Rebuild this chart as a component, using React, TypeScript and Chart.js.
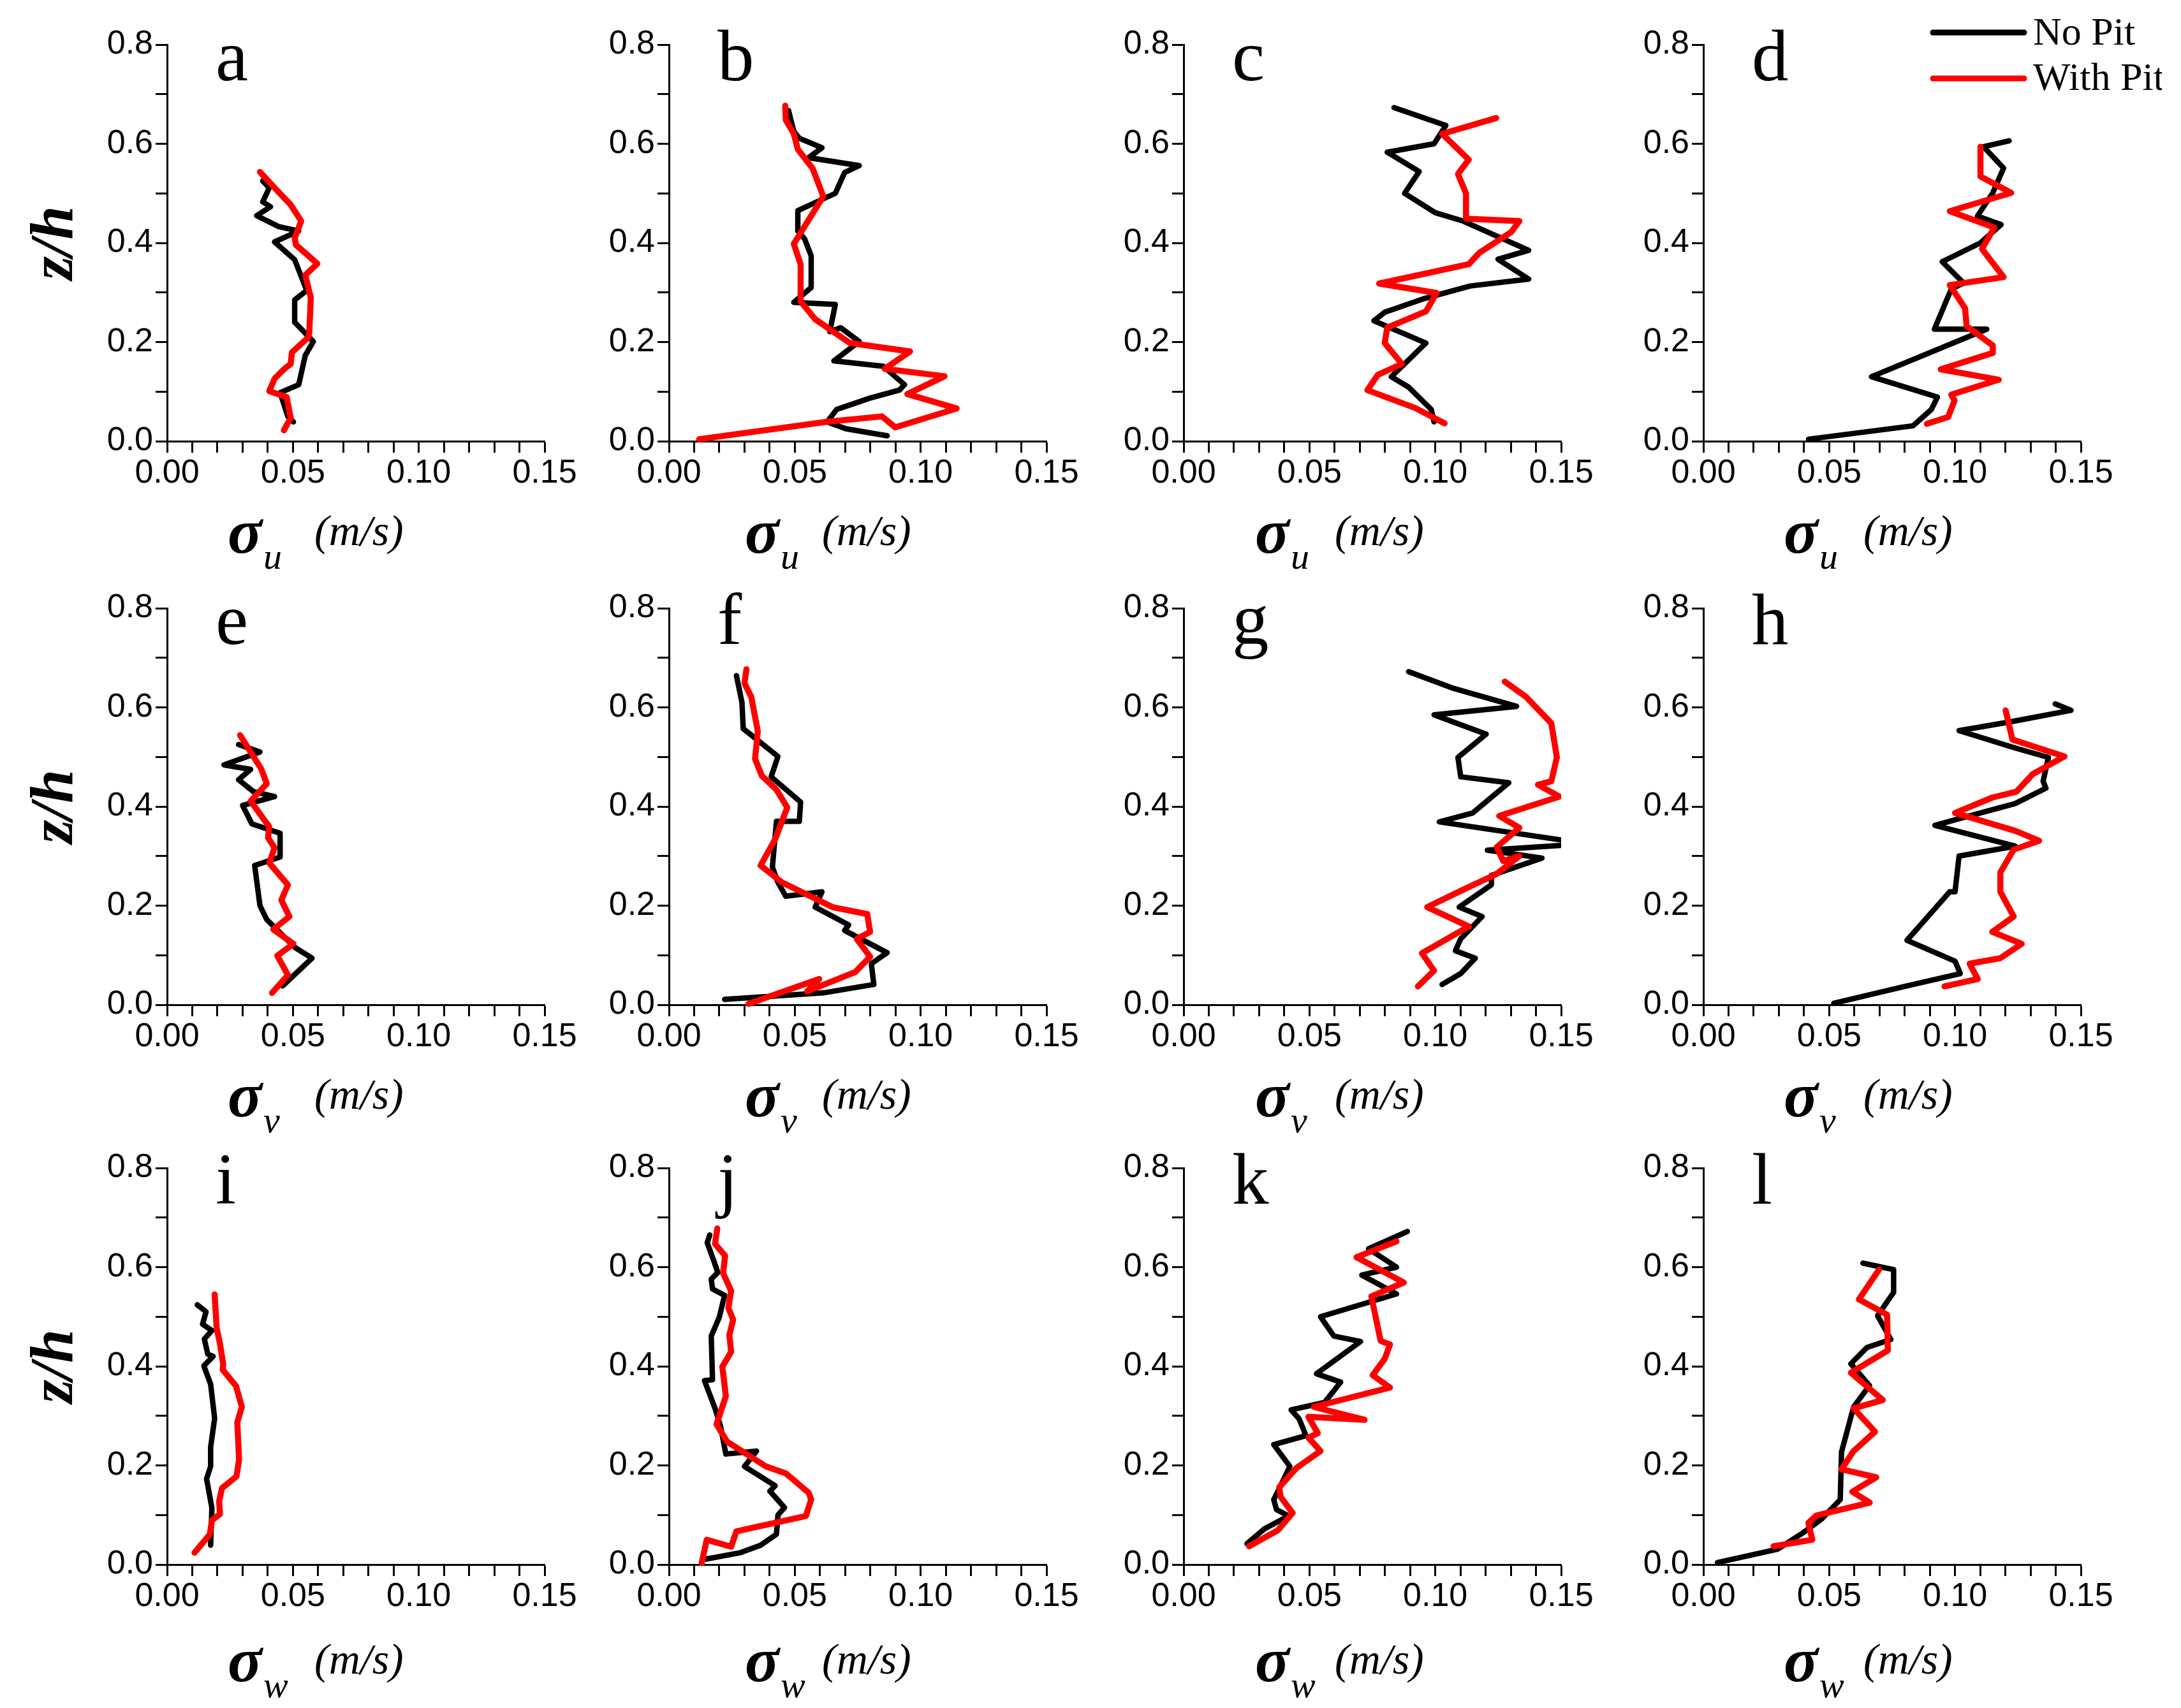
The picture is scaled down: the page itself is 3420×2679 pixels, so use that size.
import { useEffect, useRef } from "react";
import { Chart, registerables, type ChartConfiguration, type Plugin } from "chart.js";

Chart.register(...registerables);

type Pt = [number, number];

// [sigma (m/s), z/h], from the top of each profile down
const aNoPit: Pt[] = [[0.038, 0.525], [0.0406, 0.511], [0.038, 0.483], [0.0411, 0.473], [0.0356, 0.455], [0.0443, 0.433], [0.0523, 0.424], [0.0427, 0.402], [0.0507, 0.366], [0.0555, 0.304], [0.0507, 0.285], [0.0507, 0.24], [0.0581, 0.201], [0.0549, 0.173], [0.0523, 0.114], [0.0449, 0.098], [0.048, 0.05], [0.0502, 0.039]];
const aWithPit: Pt[] = [[0.0369, 0.543], [0.0433, 0.508], [0.0491, 0.477], [0.0533, 0.444], [0.0507, 0.41], [0.0512, 0.396], [0.0597, 0.358], [0.0549, 0.335], [0.0571, 0.29], [0.0565, 0.218], [0.056, 0.209], [0.0496, 0.179], [0.0491, 0.156], [0.0464, 0.145], [0.0427, 0.126], [0.0406, 0.101], [0.0475, 0.089], [0.0491, 0.047], [0.0464, 0.022]];

const bNoPit: Pt[] = [[0.0475, 0.667], [0.0496, 0.625], [0.0518, 0.611], [0.0608, 0.592], [0.0555, 0.572], [0.0756, 0.556], [0.0698, 0.542], [0.0661, 0.5], [0.0512, 0.465], [0.0512, 0.424], [0.0539, 0.408], [0.0565, 0.374], [0.0565, 0.31], [0.0496, 0.28], [0.0661, 0.276], [0.0639, 0.221], [0.0682, 0.229], [0.0756, 0.201], [0.0655, 0.162], [0.0852, 0.151], [0.0936, 0.114], [0.0915, 0.103], [0.0799, 0.087], [0.0666, 0.064], [0.0629, 0.039], [0.0703, 0.025], [0.0867, 0.011]];
const bWithPit: Pt[] = [[0.0462, 0.677], [0.0464, 0.648], [0.0496, 0.62], [0.0512, 0.589], [0.0571, 0.55], [0.0613, 0.494], [0.0496, 0.398], [0.0523, 0.357], [0.0523, 0.282], [0.0581, 0.246], [0.0719, 0.198], [0.0958, 0.181], [0.0857, 0.146], [0.1095, 0.131], [0.0947, 0.095], [0.1143, 0.066], [0.0899, 0.028], [0.0846, 0.05], [0.0624, 0.039], [0.012, 0.004]];

const cNoPit: Pt[] = [[0.0836, 0.673], [0.1042, 0.637], [0.0995, 0.6], [0.0809, 0.583], [0.0936, 0.544], [0.0878, 0.5], [0.1, 0.461], [0.1111, 0.444], [0.127, 0.408], [0.1371, 0.385], [0.1249, 0.367], [0.1371, 0.327], [0.1138, 0.313], [0.0958, 0.288], [0.0799, 0.26], [0.0756, 0.243], [0.0963, 0.198], [0.0825, 0.13], [0.0894, 0.109], [0.0984, 0.064], [0.0995, 0.039]];
const cWithPit: Pt[] = [[0.1242, 0.652], [0.1027, 0.62], [0.1133, 0.568], [0.109, 0.539], [0.1122, 0.5], [0.1122, 0.449], [0.1334, 0.444], [0.1302, 0.422], [0.1175, 0.38], [0.1133, 0.357], [0.0777, 0.318], [0.1005, 0.299], [0.0963, 0.262], [0.0809, 0.229], [0.0799, 0.198], [0.0867, 0.156], [0.0772, 0.134], [0.073, 0.103], [0.092, 0.067], [0.1037, 0.036]];

const dNoPit: Pt[] = [[0.1215, 0.606], [0.1113, 0.594], [0.1193, 0.551], [0.115, 0.501], [0.1089, 0.454], [0.1183, 0.437], [0.1101, 0.4], [0.0949, 0.362], [0.1034, 0.319], [0.0985, 0.307], [0.0918, 0.226], [0.1126, 0.226], [0.0668, 0.13], [0.093, 0.089], [0.0906, 0.064], [0.0833, 0.031], [0.0418, 0.004]];
const dWithPit: Pt[] = [[0.1101, 0.594], [0.1101, 0.534], [0.1223, 0.501], [0.0979, 0.464], [0.1156, 0.431], [0.1107, 0.388], [0.1193, 0.331], [0.0979, 0.315], [0.104, 0.268], [0.1046, 0.232], [0.115, 0.193], [0.115, 0.178], [0.0943, 0.145], [0.1174, 0.124], [0.0985, 0.094], [0.0998, 0.082], [0.0973, 0.049], [0.0888, 0.035]];

const eNoPit: Pt[] = [[0.0284, 0.525], [0.0369, 0.51], [0.0226, 0.484], [0.0332, 0.475], [0.0284, 0.454], [0.0343, 0.43], [0.0427, 0.42], [0.03, 0.402], [0.0337, 0.365], [0.0449, 0.346], [0.0449, 0.298], [0.0348, 0.281], [0.0369, 0.2], [0.0396, 0.172], [0.0507, 0.116], [0.0576, 0.094], [0.0459, 0.038]];
const eWithPit: Pt[] = [[0.029, 0.544], [0.0374, 0.476], [0.0396, 0.446], [0.0332, 0.411], [0.0406, 0.359], [0.0401, 0.337], [0.0427, 0.317], [0.0406, 0.286], [0.048, 0.242], [0.0454, 0.211], [0.0486, 0.178], [0.0422, 0.152], [0.0502, 0.123], [0.0438, 0.099], [0.048, 0.06], [0.0417, 0.024]];

const fNoPit: Pt[] = [[0.0268, 0.664], [0.029, 0.61], [0.0295, 0.557], [0.0433, 0.501], [0.0406, 0.46], [0.0523, 0.409], [0.0518, 0.37], [0.0427, 0.37], [0.0411, 0.278], [0.0433, 0.247], [0.0464, 0.219], [0.0608, 0.228], [0.0581, 0.197], [0.0714, 0.161], [0.0698, 0.15], [0.0867, 0.105], [0.0804, 0.083], [0.0814, 0.041], [0.0613, 0.024], [0.0221, 0.011]];
const fWithPit: Pt[] = [[0.0308, 0.677], [0.03, 0.649], [0.0327, 0.621], [0.0353, 0.552], [0.0342, 0.496], [0.0369, 0.462], [0.0427, 0.434], [0.047, 0.398], [0.0422, 0.334], [0.0364, 0.281], [0.0449, 0.247], [0.065, 0.197], [0.0788, 0.183], [0.0799, 0.147], [0.0746, 0.133], [0.0799, 0.097], [0.074, 0.066], [0.0549, 0.027], [0.0597, 0.052], [0.0316, 0.002]];

const gNoPit: Pt[] = [[0.0894, 0.672], [0.1074, 0.638], [0.1323, 0.602], [0.0995, 0.585], [0.1202, 0.546], [0.109, 0.499], [0.1101, 0.46], [0.1292, 0.448], [0.1149, 0.387], [0.1016, 0.369], [0.16, 0.325], [0.1207, 0.312], [0.1424, 0.296], [0.1223, 0.261], [0.1223, 0.242], [0.1095, 0.197], [0.1186, 0.178], [0.1101, 0.133], [0.108, 0.109], [0.1159, 0.094], [0.1101, 0.063], [0.1027, 0.041]];
const gWithPit: Pt[] = [[0.1276, 0.652], [0.1361, 0.621], [0.1461, 0.568], [0.1483, 0.499], [0.1461, 0.451], [0.1408, 0.444], [0.1493, 0.42], [0.1254, 0.381], [0.1334, 0.357], [0.1244, 0.318], [0.127, 0.29], [0.1334, 0.3], [0.1244, 0.264], [0.1106, 0.231], [0.0968, 0.197], [0.1133, 0.158], [0.0947, 0.104], [0.0995, 0.069], [0.0931, 0.037]];

const hNoPit: Pt[] = [[0.1398, 0.607], [0.1461, 0.594], [0.1223, 0.571], [0.1016, 0.553], [0.1239, 0.518], [0.1371, 0.499], [0.135, 0.451], [0.1361, 0.437], [0.1239, 0.406], [0.1021, 0.376], [0.092, 0.362], [0.1239, 0.32], [0.1016, 0.3], [0.1, 0.228], [0.0979, 0.228], [0.0809, 0.13], [0.1, 0.088], [0.1021, 0.063], [0.0809, 0.038], [0.0518, 0.003]];
const hWithPit: Pt[] = [[0.1201, 0.594], [0.1228, 0.535], [0.1435, 0.501], [0.1308, 0.465], [0.1244, 0.43], [0.1148, 0.418], [0.1, 0.387], [0.1239, 0.351], [0.1334, 0.331], [0.1233, 0.313], [0.118, 0.267], [0.118, 0.228], [0.1233, 0.178], [0.1148, 0.147], [0.1265, 0.123], [0.118, 0.094], [0.1058, 0.083], [0.109, 0.052], [0.0958, 0.037]];

const iNoPit: Pt[] = [[0.012, 0.524], [0.0155, 0.51], [0.0141, 0.485], [0.0178, 0.472], [0.0148, 0.455], [0.0162, 0.424], [0.0183, 0.42], [0.0146, 0.401], [0.0173, 0.364], [0.0189, 0.295], [0.0173, 0.237], [0.0173, 0.198], [0.0157, 0.173], [0.0178, 0.114], [0.0173, 0.039]];
const iWithPit: Pt[] = [[0.0189, 0.545], [0.0197, 0.477], [0.021, 0.446], [0.0223, 0.404], [0.0221, 0.393], [0.0274, 0.36], [0.0297, 0.318], [0.0279, 0.287], [0.0286, 0.212], [0.0276, 0.178], [0.0218, 0.154], [0.0207, 0.128], [0.021, 0.102], [0.0178, 0.089], [0.017, 0.061], [0.0109, 0.024]];

const jNoPit: Pt[] = [[0.0162, 0.665], [0.0152, 0.649], [0.0178, 0.613], [0.0194, 0.589], [0.0168, 0.576], [0.0173, 0.556], [0.0221, 0.543], [0.02, 0.499], [0.0168, 0.461], [0.0173, 0.373], [0.0141, 0.371], [0.0183, 0.315], [0.0205, 0.279], [0.0226, 0.223], [0.0348, 0.229], [0.03, 0.198], [0.0422, 0.159], [0.0401, 0.148], [0.0459, 0.115], [0.0433, 0.1], [0.0427, 0.061], [0.0364, 0.039], [0.0284, 0.024], [0.0146, 0.011]];
const jWithPit: Pt[] = [[0.0192, 0.678], [0.0183, 0.647], [0.0223, 0.623], [0.0215, 0.588], [0.0247, 0.552], [0.0236, 0.518], [0.0255, 0.494], [0.024, 0.463], [0.0247, 0.429], [0.0212, 0.399], [0.0226, 0.34], [0.0189, 0.283], [0.0231, 0.248], [0.0385, 0.198], [0.0464, 0.184], [0.0555, 0.145], [0.0565, 0.131], [0.0544, 0.098], [0.0268, 0.067], [0.0247, 0.036], [0.015, 0.05], [0.013, 0.003]];

const kNoPit: Pt[] = [[0.0889, 0.672], [0.0735, 0.637], [0.0846, 0.6], [0.0708, 0.584], [0.0846, 0.546], [0.0544, 0.5], [0.0597, 0.461], [0.0703, 0.45], [0.0528, 0.385], [0.0624, 0.368], [0.056, 0.327], [0.0427, 0.312], [0.0459, 0.294], [0.0486, 0.26], [0.0358, 0.242], [0.0422, 0.198], [0.0374, 0.147], [0.0358, 0.131], [0.0369, 0.111], [0.0417, 0.098], [0.0321, 0.072], [0.0252, 0.042]];
const kWithPit: Pt[] = [[0.0846, 0.652], [0.0687, 0.62], [0.0875, 0.569], [0.0746, 0.541], [0.0783, 0.451], [0.082, 0.444], [0.0799, 0.415], [0.0751, 0.382], [0.082, 0.357], [0.0517, 0.318], [0.0719, 0.292], [0.0496, 0.298], [0.0533, 0.265], [0.0496, 0.256], [0.0544, 0.229], [0.0449, 0.195], [0.038, 0.156], [0.0385, 0.137], [0.0433, 0.104], [0.0374, 0.069], [0.026, 0.037]];

const lNoPit: Pt[] = [[0.0634, 0.608], [0.0756, 0.595], [0.0756, 0.549], [0.0692, 0.502], [0.0745, 0.454], [0.065, 0.438], [0.0586, 0.405], [0.066, 0.361], [0.0597, 0.318], [0.0549, 0.227], [0.0544, 0.131], [0.047, 0.092], [0.0396, 0.064], [0.0295, 0.031], [0.0056, 0.004]];
const lWithPit: Pt[] = [[0.0698, 0.595], [0.0618, 0.535], [0.073, 0.504], [0.0733, 0.432], [0.0586, 0.387], [0.0713, 0.332], [0.0597, 0.315], [0.0682, 0.268], [0.0597, 0.229], [0.0549, 0.192], [0.0687, 0.176], [0.0592, 0.147], [0.0661, 0.125], [0.0449, 0.099], [0.0417, 0.084], [0.0433, 0.05], [0.0279, 0.037]];

const noPitSeries = [aNoPit, bNoPit, cNoPit, dNoPit, eNoPit, fNoPit, gNoPit, hNoPit, iNoPit, jNoPit, kNoPit, lNoPit];
const withPitSeries = [aWithPit, bWithPit, cWithPit, dWithPit, eWithPit, fWithPit, gWithPit, hWithPit, iWithPit, jWithPit, kWithPit, lWithPit];

const panelLetters = ["a", "b", "c", "d", "e", "f", "g", "h", "i", "j", "k", "l"];
const rowComponents = ["u", "v", "w"];
const seriesNames = ["No Pit", "With Pit"];
const seriesColors = ["#000000", "#ff0000"];
const xTickLabels = ["0.00", "0.05", "0.10", "0.15"];
const yTickLabels = ["0.0", "0.2", "0.4", "0.6", "0.8"];

// page layout, in screen pixels
const PLOT_W = 592;
const PLOT_H = 622;
const AXIS_W = 262;
const TOP_PAD = 70;
const CANVAS_H = 915;
const colLeft = [262, 1049, 1856, 2671];
const rowTop = [70, 954, 1832];
const sigmaDx = [95, 119, 112, 126];
const unitDx = [231, 240, 237, 251];
const titleDy = [0, 0, 8];

const SERIF = '"Liberation Serif", "Times New Roman", serif';

function Panel({ index }: { index: number }) {
  const canvasRef = useRef<HTMLCanvasElement>(null);
  const row = Math.floor(index / 4);
  const col = index % 4;
  const left = colLeft[col] - AXIS_W;
  const top = rowTop[row] - TOP_PAD;
  const width = col === 3 ? 3390 - left : AXIS_W + PLOT_W + 90;

  useEffect(() => {
    if (!canvasRef.current) return;

    const decor: Plugin<"scatter"> = {
      id: "panelDecor",
      afterDraw(chart) {
        const { ctx } = chart;
        const area = chart.chartArea;
        ctx.save();
        ctx.fillStyle = "#000";
        ctx.textAlign = "left";
        ctx.textBaseline = "alphabetic";

        ctx.font = `115px ${SERIF}`;
        ctx.fillText(panelLetters[index], area.left + 76, area.top + 56);

        // sigma_u (m/s)
        const base = area.bottom + titleDy[row];
        const sx = area.left + sigmaDx[col];
        ctx.font = `italic bold 100px ${SERIF}`;
        ctx.fillText("σ", sx, base + 175);
        const sw = ctx.measureText("σ").width;
        ctx.font = `italic 58px ${SERIF}`;
        ctx.fillText(rowComponents[row], sx + sw + 2, base + 200);
        ctx.font = `italic 68px ${SERIF}`;
        ctx.fillText("(m/s)", area.left + unitDx[col], base + 163);

        if (col === 0) {
          ctx.save();
          ctx.translate(88, (area.top + area.bottom) / 2);
          ctx.rotate(-Math.PI / 2);
          ctx.textAlign = "center";
          ctx.textBaseline = "middle";
          ctx.font = `italic bold 95px ${SERIF}`;
          ctx.fillText("z/h", 0, 0);
          ctx.restore();
        }

        if (index === 3) {
          ctx.lineCap = "round";
          ctx.lineWidth = 9;
          ctx.font = `62px ${SERIF}`;
          [0, 1].forEach((k) => {
            const ly = area.top - 19 + k * 72;
            ctx.strokeStyle = seriesColors[k];
            ctx.beginPath();
            ctx.moveTo(area.left + 360, ly);
            ctx.lineTo(area.left + 503, ly);
            ctx.stroke();
            ctx.fillText(seriesNames[k], area.left + 517, area.top + k * 71);
          });
        }
        ctx.restore();
      },
    };

    const line = (pts: Pt[], k: number) => ({
      label: seriesNames[k],
      data: pts.map(([x, y]) => ({ x, y })),
      borderColor: seriesColors[k],
      backgroundColor: seriesColors[k],
      borderWidth: k === 0 ? 8.5 : 9.5,
      borderJoinStyle: "round" as const,
      borderCapStyle: "round" as const,
      showLine: true,
      pointRadius: 0,
      tension: 0,
      order: k === 0 ? 1 : 0,
      clip: { left: 20, top: 20, right: 0, bottom: 20 },
    });

    const tickFont = { family: '"Liberation Sans", Arial, sans-serif', size: 52, lineHeight: 0.8 };
    const grid = { drawOnChartArea: false, drawTicks: true, tickLength: 18, tickWidth: 3, tickColor: "#000" };
    const border = { display: true, color: "#000", width: 3 };

    const config: ChartConfiguration<"scatter"> = {
      type: "scatter",
      data: {
        datasets: [line(noPitSeries[index], 0), line(withPitSeries[index], 1)],
      },
      options: {
        animation: false,
        responsive: false,
        events: [],
        layout: { padding: { left: 0, top: TOP_PAD, right: width - AXIS_W - PLOT_W, bottom: 0 } },
        plugins: { legend: { display: false }, tooltip: { enabled: false } },
        scales: {
          x: {
            type: "linear",
            min: 0,
            max: 0.15,
            afterFit: (scale) => {
              scale.height = CANVAS_H - TOP_PAD - PLOT_H;
            },
            ticks: {
              stepSize: 0.01,
              autoSkip: false,
              maxRotation: 0,
              minRotation: 0,
              padding: 12,
              color: "#000",
              font: tickFont,
              callback: (v) => {
                const s = Number(v).toFixed(2);
                return xTickLabels.includes(s) ? s : "";
              },
            },
            grid,
            border,
          },
          y: {
            type: "linear",
            min: 0,
            max: 0.8,
            afterFit: (scale) => {
              scale.width = AXIS_W;
            },
            ticks: {
              stepSize: 0.1,
              autoSkip: false,
              padding: 4,
              color: "#000",
              font: tickFont,
              callback: (v) => {
                const s = Number(v).toFixed(1);
                return yTickLabels.includes(s) ? s : "";
              },
            },
            grid,
            border,
          },
        },
      },
      plugins: [decor],
    };

    const chart = new Chart(canvasRef.current, config);
    return () => chart.destroy();
  }, [index, col, row, width]);

  return (
    <canvas
      ref={canvasRef}
      width={width}
      height={CANVAS_H}
      style={{ position: "absolute", left, top, width, height: CANVAS_H, display: "block" }}
    />
  );
}

export default function App() {
  useEffect(() => {
    document.body.style.margin = "0";
  }, []);

  return (
    <div
      style={{
        position: "absolute",
        left: 0,
        top: 0,
        width: 3420,
        height: 2679,
        overflow: "hidden",
        background: "#fff",
      }}
    >
      {panelLetters.map((_, i) => (
        <Panel key={i} index={i} />
      ))}
    </div>
  );
}
